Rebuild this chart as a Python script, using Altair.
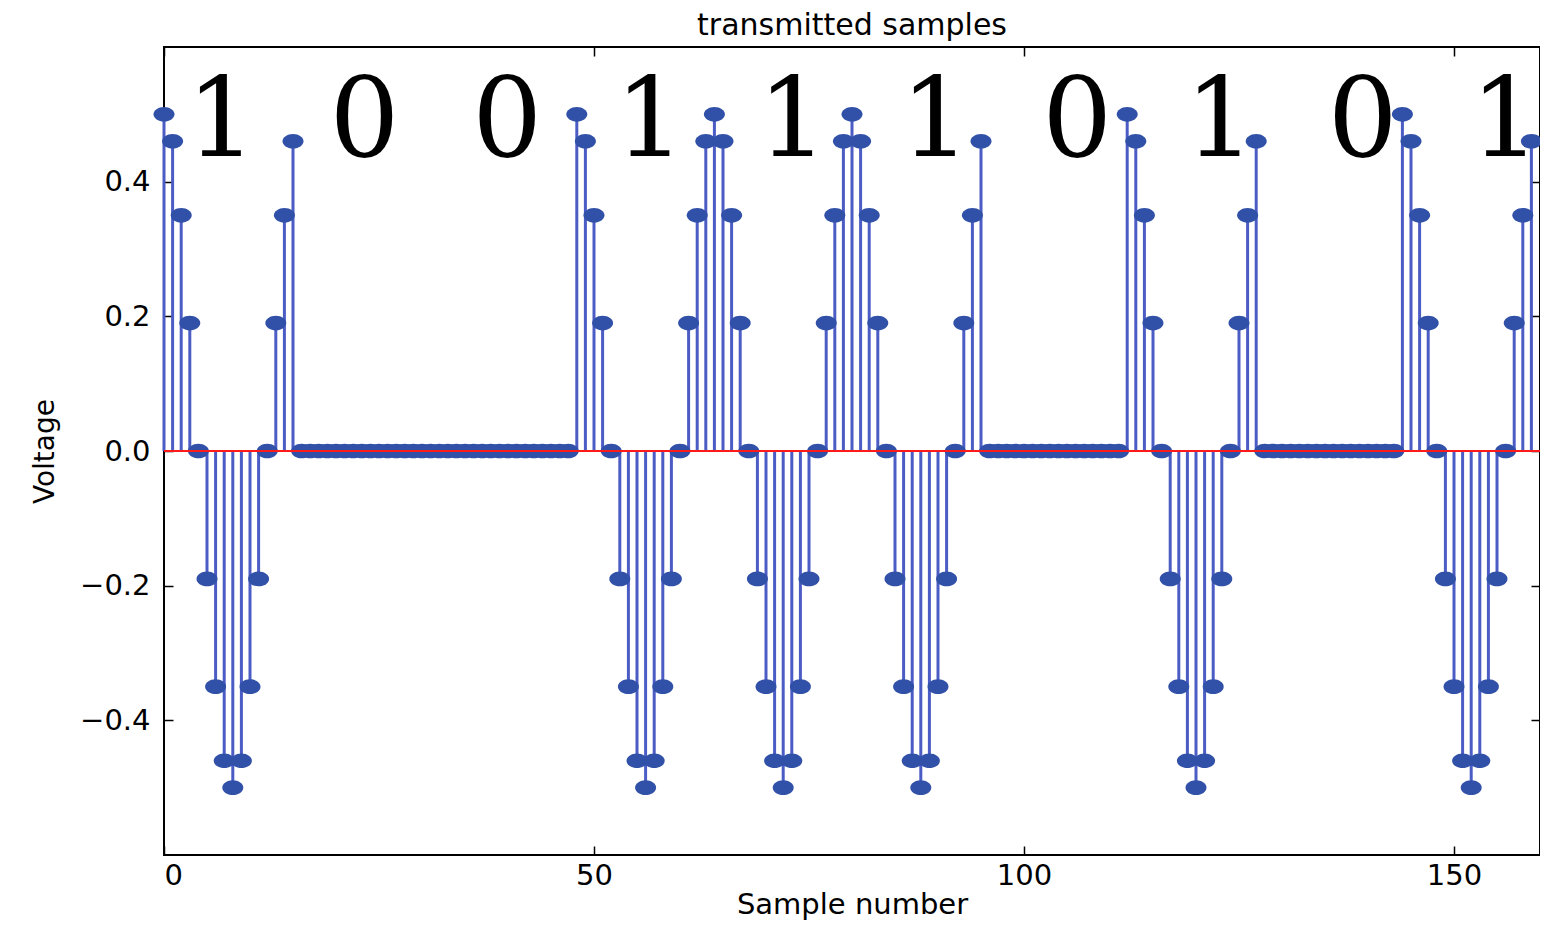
import altair as alt
import pandas as pd

# Sample values (16 samples per bit, 10 bits)
samples = [
    0.5, 0.46, 0.35, 0.19, 0.0, -0.19, -0.35, -0.46, -0.5, -0.46, -0.35, -0.19, 0.0, 0.19, 0.35, 0.46,
    0.0, 0.0, 0.0, 0.0, 0.0, 0.0, 0.0, 0.0, 0.0, 0.0, 0.0, 0.0, 0.0, 0.0, 0.0, 0.0,
    0.0, 0.0, 0.0, 0.0, 0.0, 0.0, 0.0, 0.0, 0.0, 0.0, 0.0, 0.0, 0.0, 0.0, 0.0, 0.0,
    0.5, 0.46, 0.35, 0.19, 0.0, -0.19, -0.35, -0.46, -0.5, -0.46, -0.35, -0.19, 0.0, 0.19, 0.35, 0.46,
    0.5, 0.46, 0.35, 0.19, 0.0, -0.19, -0.35, -0.46, -0.5, -0.46, -0.35, -0.19, 0.0, 0.19, 0.35, 0.46,
    0.5, 0.46, 0.35, 0.19, 0.0, -0.19, -0.35, -0.46, -0.5, -0.46, -0.35, -0.19, 0.0, 0.19, 0.35, 0.46,
    0.0, 0.0, 0.0, 0.0, 0.0, 0.0, 0.0, 0.0, 0.0, 0.0, 0.0, 0.0, 0.0, 0.0, 0.0, 0.0,
    0.5, 0.46, 0.35, 0.19, 0.0, -0.19, -0.35, -0.46, -0.5, -0.46, -0.35, -0.19, 0.0, 0.19, 0.35, 0.46,
    0.0, 0.0, 0.0, 0.0, 0.0, 0.0, 0.0, 0.0, 0.0, 0.0, 0.0, 0.0, 0.0, 0.0, 0.0, 0.0,
    0.5, 0.46, 0.35, 0.19, 0.0, -0.19, -0.35, -0.46, -0.5, -0.46, -0.35, -0.19, 0.0, 0.19, 0.35, 0.46,
]
sample_index = list(range(len(samples)))

bits = ["1", "0", "0", "1", "1", "1", "0", "1", "0", "1"]
bit_x = [6.7, 23.3, 39.9, 56.5, 73.1, 89.7, 106.2, 122.8, 139.4, 156.0]
bit_y = [0.438, 0.438, 0.438, 0.438, 0.438, 0.438, 0.438, 0.438, 0.438, 0.438]

x_ticks = [0, 50, 100, 150]
y_ticks = [-0.4, -0.2, 0.0, 0.2, 0.4]

W, H = 1376, 808

df = pd.DataFrame({"n": sample_index, "v": samples})
bits_df = pd.DataFrame({"bit": bits, "x": bit_x, "y": bit_y})

xs = alt.Scale(domain=[0, 160], nice=False, zero=False)
ys = alt.Scale(domain=[-0.6, 0.6], nice=False, zero=False)

FONT = "DejaVu Sans"

ax_bottom = alt.Axis(orient="bottom", values=x_ticks, format="d", ticks=False, domain=False,
                     grid=False, labelFont=FONT, labelFontSize=29, labelColor="black",
                     labelPadding=6, title="Sample number", titleFont=FONT, titleFontSize=29,
                     titleFontWeight="normal", titleColor="black", titlePadding=0)
ax_left = alt.Axis(orient="left", values=y_ticks, format=".1f", ticks=False, domain=False,
                   grid=False, labelFont=FONT, labelFontSize=29, labelColor="black",
                   labelPadding=14, title="Voltage", titleFont=FONT, titleFontSize=28,
                   titleFontWeight="normal", titleColor="black", titlePadding=20)


def tick_axis(orient, values, offset):
    return alt.Axis(orient=orient, values=values, offset=offset, labels=False, domain=False,
                    grid=False, ticks=True, tickSize=9, tickWidth=1.5, tickColor="black",
                    title=None)


stems = alt.Chart(df).mark_rule(color="#4b5cc4", strokeWidth=3).encode(
    x=alt.X("n:Q", scale=xs, axis=ax_bottom),
    y=alt.Y("v:Q", scale=ys, axis=ax_left),
    y2=alt.datum(0),
)

ellipse = ("M-1,0 C-1,-0.3866 -0.5523,-0.7 0,-0.7 C0.5523,-0.7 1,-0.3866 1,0 "
           "C1,0.3866 0.5523,0.7 0,0.7 C-0.5523,0.7 -1,0.3866 -1,0 Z")

points = alt.Chart(df).mark_point(filled=True, shape=ellipse, size=440, color="#3150a8",
                                  opacity=1).encode(
    x=alt.X("n:Q", scale=xs, axis=tick_axis("top", x_ticks, -H)),
    y=alt.Y("v:Q", scale=ys, axis=tick_axis("right", y_ticks, -W)),
)

baseline = alt.Chart(df).mark_rule(color="#ff1a1a", strokeWidth=2).encode(
    y=alt.YDatum(datum=0, scale=ys, axis=None),
)

labels = alt.Chart(bits_df).mark_text(font="DejaVu Serif", fontSize=110, color="black",
                                      align="center", baseline="alphabetic").encode(
    x=alt.X("x:Q", scale=xs, axis=tick_axis("bottom", x_ticks, -H)),
    y=alt.Y("y:Q", scale=ys, axis=tick_axis("left", y_ticks, -W)),
    text="bit:N",
)

chart = alt.layer(stems, points, baseline, labels).resolve_axis(
    x="independent", y="independent"
).properties(
    width=W, height=H,
    title=alt.TitleParams("transmitted samples", font=FONT, fontSize=30,
                          fontWeight="normal", color="black", offset=5, anchor="middle"),
    padding={"left": 156, "top": 39, "right": 0, "bottom": 67},
    autosize=alt.AutoSizeParams(type="none"),
).configure(background="white").configure_view(stroke="black", strokeWidth=2)

chart.save("out.html", embed_options={"renderer": "svg", "actions": False})
